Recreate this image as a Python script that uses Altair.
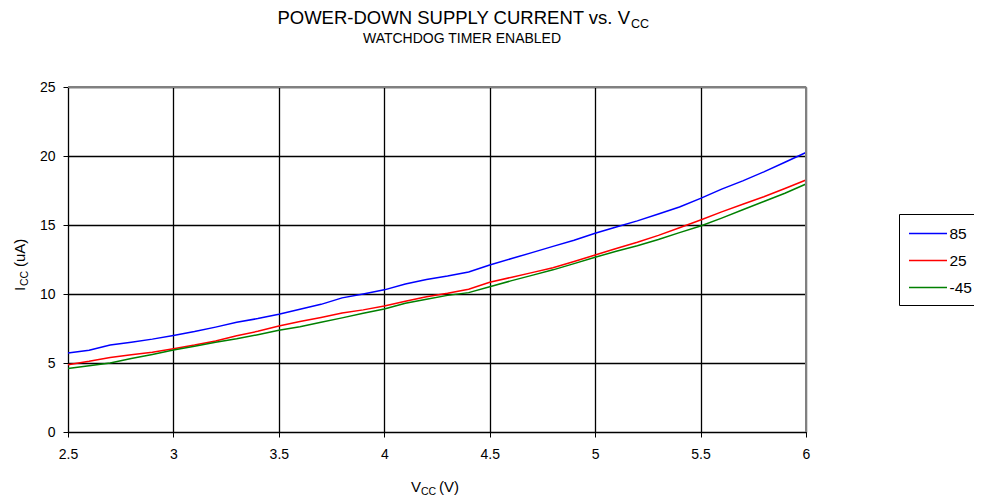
import altair as alt
import pandas as pd

vcc = [2.5, 2.6, 2.7, 2.8, 2.9, 3.0, 3.1, 3.2, 3.3, 3.4, 3.5, 3.6, 3.7, 3.8, 3.9, 4.0, 4.1, 4.2,
       4.3, 4.4, 4.5, 4.6, 4.7, 4.8, 4.9, 5.0, 5.1, 5.2, 5.3, 5.4, 5.5, 5.6, 5.7, 5.8, 5.9, 6.0]
icc_85 = [5.72, 5.92, 6.30, 6.50, 6.73, 7.00, 7.28, 7.60, 7.95, 8.22, 8.53, 8.89, 9.25, 9.72, 10.0, 10.3,
          10.72, 11.05, 11.3, 11.6, 12.1, 12.55, 13.0, 13.45, 13.9, 14.4, 14.85, 15.3, 15.8, 16.3,
          16.93, 17.6, 18.2, 18.85, 19.55, 20.25]
icc_25 = [4.88, 5.12, 5.40, 5.60, 5.78, 6.04, 6.30, 6.60, 6.97, 7.30, 7.68, 8.00, 8.30, 8.62, 8.85, 9.13,
          9.48, 9.80, 10.05, 10.35, 10.85, 11.2, 11.55, 11.9, 12.35, 12.83, 13.3, 13.75, 14.25, 14.8,
          15.36, 15.95, 16.5, 17.05, 17.65, 18.26]
icc_m45 = [4.60, 4.80, 5.00, 5.32, 5.62, 5.94, 6.22, 6.50, 6.75, 7.05, 7.37, 7.63, 7.95, 8.27, 8.60, 8.91,
           9.33, 9.62, 9.90, 10.1, 10.53, 10.95, 11.35, 11.75, 12.2, 12.66, 13.1, 13.5, 13.95, 14.45,
           14.93, 15.5, 16.1, 16.7, 17.3, 17.97]
series = ["85", "25", "-45"]
colors = ["#0000ff", "#ff0000", "#008000"]
x_ticks = [2.5, 3, 3.5, 4, 4.5, 5, 5.5, 6]
y_ticks = [0, 5, 10, 15, 20, 25]

rows = []
for name, vals in zip(series, [icc_85, icc_25, icc_m45]):
    for v, i in zip(vcc, vals):
        rows.append({"vcc": v, "icc": i, "temp": name})
df = pd.DataFrame(rows)

W, H = 738, 345
FONT = "Liberation Sans"

xs = alt.Scale(domain=[2.5, 6], nice=False, zero=False)
ys = alt.Scale(domain=[0, 25], nice=False)

lines = alt.Chart(df).mark_line(strokeWidth=1.5).encode(
    x=alt.X("vcc:Q", scale=xs,
            axis=alt.Axis(values=x_ticks, format="~g", title=None, grid=True, labelFlush=False,
                          gridColor="#000", gridOpacity=1, gridWidth=1.3,
                          domainColor="#000", tickColor="#000", tickSize=5,
                          labelFontSize=14, labelPadding=10, labelFont=FONT, labelColor="#000")),
    y=alt.Y("icc:Q", scale=ys,
            axis=alt.Axis(values=y_ticks, title=None, grid=True, labelFlush=False,
                          gridColor="#000", gridOpacity=1, gridWidth=1.3,
                          domainColor="#000", tickColor="#000", tickSize=5,
                          labelFontSize=14, labelPadding=8, labelFont=FONT, labelColor="#000")),
    color=alt.Color("temp:N", sort=series,
                    scale=alt.Scale(domain=series, range=colors),
                    legend=alt.Legend(title=None, orient="none", legendX=831, legendY=127,
                                      symbolType="M-2,0H2", symbolSize=361, symbolStrokeWidth=1.5,
                                      symbolOffset=9.5,
                                      labelFontSize=15.5, labelFont=FONT, labelColor="#000",
                                      strokeColor="#000", fillColor="#fff", padding=9,
                                      rowPadding=8, labelOffset=11)),
    detail="temp:N",
)

border_top = alt.Chart(pd.DataFrame({"v": [25]})).mark_rule(color="#808080", strokeWidth=2).encode(
    y=alt.Y("v:Q", scale=ys))
border_right = alt.Chart(pd.DataFrame({"v": [6]})).mark_rule(color="#808080", strokeWidth=2).encode(
    x=alt.X("v:Q", scale=xs))


def txt(s, x, y, size, align="left", angle=0):
    kw = dict(font=FONT, fontSize=size, align=align, baseline="alphabetic", color="#000")
    if angle:
        kw["angle"] = angle
    return alt.Chart(pd.DataFrame({"t": [s]})).mark_text(**kw).encode(
        text="t:N", x=alt.value(x), y=alt.value(y))


texts = [
    txt("POWER-DOWN SUPPLY CURRENT vs. V", 562, -63, 18.5, align="right"),
    txt("CC", 563, -59, 12.5),
    txt("WATCHDOG TIMER ENABLED", 394, -44, 14, align="center"),
    txt("V", 343, 405, 15),
    txt("CC", 353, 408, 10.5),
    txt("(V)", 371, 405, 15),
    txt("I", -43, 204, 15, angle=270),
    txt("CC", -40, 199, 10.5, angle=270),
    txt("(uA)", -43, 180, 15, angle=270),
]

chart = alt.layer(lines, border_top, border_right, *texts).properties(
    width=W, height=H,
    autosize=alt.AutoSizeParams(type="none"),
    padding={"left": 60, "top": 79, "right": 168, "bottom": 70},
).configure_view(stroke=None)

chart.save("out.html", embed_options={"renderer": "svg", "actions": False})
